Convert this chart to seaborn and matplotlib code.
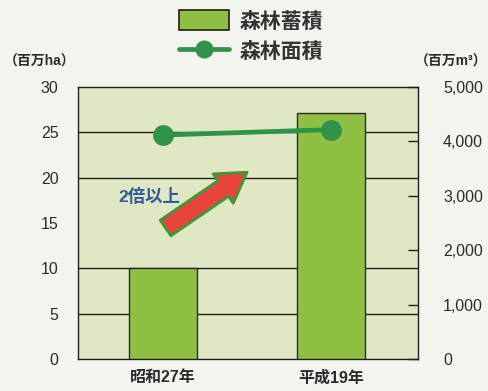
import matplotlib
matplotlib.use("Agg")
import matplotlib.pyplot as plt
import seaborn as sns
import pandas as pd
from matplotlib.patches import Patch
from matplotlib.lines import Line2D
from matplotlib.ticker import FuncFormatter

sns.set_theme(style="white")
plt.rcParams['font.family'] = ['Liberation Sans', 'Noto Sans CJK JP', 'DejaVu Sans']

# ---- data ----
years = ["昭和27年", "平成19年"]
stock = [1680, 4520]          # 森林蓄積 (百万m3)
area = [24.7, 25.3]           # 森林面積 (百万ha)
left_ticks = [0, 5, 10, 15, 20, 25, 30]
grid_vals = [5, 10, 20, 25]
right_ticks = [0, 1000, 2000, 3000, 4000, 5000]

df = pd.DataFrame({"year": years, "stock": stock, "area": area})

BG = "#f4f4ef"
PLOT_BG = "#dfe8c3"
BAR = "#8fc043"
LINE = "#2f944a"
DARK = "#2b2b2b"

fig = plt.figure(figsize=(4.88, 3.91), dpi=100, facecolor=BG)
ax = fig.add_axes([0.160, 0.0818, 0.6966, 0.6957])
ax.set_facecolor(PLOT_BG)
ax.set_ylim(0, 30)
ax.set_xlim(-0.506, 1.518)
ax.set_yticks(left_ticks)
ax.set_yticklabels([str(v) for v in left_ticks], fontsize=11.5, color=DARK)
for v in grid_vals:
    ax.axhline(v, color="#1e1e1e", lw=1.0, zorder=0.5)
ax.tick_params(axis="y", length=0, pad=14)
ax.set_xticks([0, 1])
ax.set_xticklabels(years, fontsize=11.5, color=DARK, fontweight="bold")
ax.tick_params(axis="x", length=0, pad=8)
ax.set_xticks([0.5], minor=True)
ax.tick_params(axis="x", which="minor", direction="in", length=11, width=1, color="#7a6a5a")
for s in ax.spines.values():
    s.set_color("#1e1e1e")
    s.set_linewidth(1.0)

# bars on the right (百万m3) scale
ax2 = ax.twinx()
ax2.patch.set_visible(False)
sns.barplot(data=df, x="year", y="stock", ax=ax2, color=BAR, width=0.41,
            edgecolor="#2a2a2a", linewidth=1.0, saturation=1)
ax2.set_ylim(0, 5000)
ax2.set_xlim(-0.506, 1.518)
ax2.set_yticks(right_ticks)
ax2.yaxis.set_major_formatter(FuncFormatter(lambda v, p: f"{int(v):,}"))
ax2.tick_params(axis="y", direction="in", length=7, width=1, color="#1e1e1e",
                labelsize=11.5, labelcolor=DARK, pad=18)
ax2.set_ylabel("")
ax2.set_xlabel("")
for s in ax2.spines.values():
    s.set_visible(False)

# line on the left (百万ha) scale
ax3 = ax.twinx()
ax3.patch.set_visible(False)
sns.lineplot(data=df, x="year", y="area", ax=ax3, color=LINE, lw=3.4,
             marker="o", markersize=15, markeredgewidth=0, sort=False)
ax3.set_ylim(0, 30)
ax3.set_xlim(-0.506, 1.518)
ax3.set_yticks([])
ax3.set_ylabel("")
ax3.set_xlabel("")
for s in ax3.spines.values():
    s.set_visible(False)

# arrow annotation
ax3.annotate("", xy=(0.5, 20.6), xytext=(0.015, 14.45),
             arrowprops=dict(arrowstyle="simple,head_length=1.3,head_width=1.6,tail_width=0.85",
                             fc="#e8443a", ec="#3a9a3a", lw=2, mutation_scale=16,
                             shrinkA=0, shrinkB=0))
ax3.text(-0.08, 17.87, "2倍以上", fontsize=12.5, fontweight="bold", color="#2f5c9c",
         ha="center", va="center")

# axis unit labels
fig.text(0.008, 0.842, "（百万ha）", fontsize=10, color=DARK, ha="left", va="center",
         fontweight="bold")
fig.text(0.998, 0.842, "（百万m³）", fontsize=10, color=DARK, ha="right", va="center",
         fontweight="bold")

# legend
handles = [Patch(facecolor=BAR, edgecolor="#1e1e1e", lw=1.2),
           Line2D([0], [0], color=LINE, lw=3.4, marker="o", markersize=13, markeredgewidth=0)]
leg = fig.legend(handles, ["森林蓄積", "森林面積"], loc="upper left",
                 bbox_to_anchor=(0.345, 1.0), frameon=False,
                 prop={"size": 15, "weight": "bold"},
                 handlelength=2.4, handleheight=1.1, labelspacing=0.45,
                 handletextpad=0.5, borderaxespad=0.1)
for t in leg.get_texts():
    t.set_color("#333333")

fig.savefig("out.png", dpi=100, facecolor=BG)
